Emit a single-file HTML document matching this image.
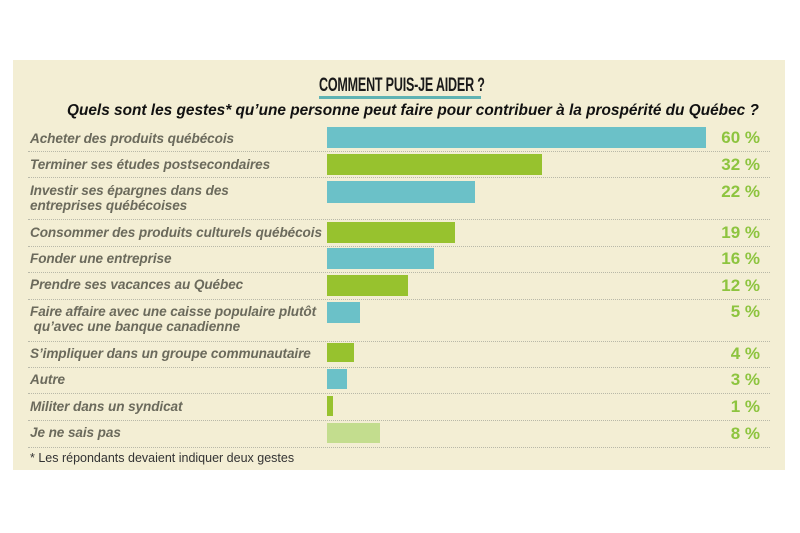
<!DOCTYPE html>
<html><head><meta charset="utf-8"><style>
body{margin:0;width:800px;height:533px;background:#fff;position:relative;overflow:hidden;font-family:"Liberation Sans",sans-serif}
#p{position:absolute;left:13px;top:60px;width:772px;height:410px;background:#f3eed4}
.t{position:absolute;left:319px;top:75px;font-weight:bold;font-size:19px;color:#1a1a1a;transform:scaleX(0.66);transform-origin:left;letter-spacing:-0.3px;white-space:nowrap}
.u{position:absolute;left:319px;top:96px;width:162px;height:3px;background:#5fb3b3}
.s{position:absolute;left:67px;top:102px;font-weight:bold;font-style:italic;font-size:15.4px;color:#111;white-space:nowrap}
.l{position:absolute;left:30px;font-weight:bold;font-style:italic;font-size:13.6px;color:#6b6a5c;line-height:15px;white-space:nowrap;letter-spacing:-0.1px}
.b{position:absolute;left:327px}
.v{position:absolute;right:40px;font-weight:bold;font-size:17px;color:#8dc43f;white-space:nowrap}
.d{position:absolute;left:28px;width:742px;border-top:1px dotted #b8b8a8}
.f{position:absolute;left:30px;top:451px;font-size:12.5px;color:#333}
</style></head><body>
<div id="p"></div>
<div class="t">COMMENT PUIS-JE AIDER ?</div>
<div class="u"></div>
<div class="s">Quels sont les gestes* qu’une personne peut faire pour contribuer à la prospérité du Québec ?</div>

<div class="l" style="top:131px">Acheter des produits québécois</div>
<div class="b" style="top:127px;width:379px;height:21px;background:#6bc1c8"></div>
<div class="v" style="top:128px">60 %</div>
<div class="d" style="top:151px"></div>

<div class="l" style="top:157px">Terminer ses études postsecondaires</div>
<div class="b" style="top:154px;width:215px;height:21px;background:#97c22e"></div>
<div class="v" style="top:155px">32 %</div>
<div class="d" style="top:177px"></div>

<div class="l" style="top:183px">Investir ses épargnes dans des<br>entreprises québécoises</div>
<div class="b" style="top:181px;width:148px;height:22px;background:#6bc1c8"></div>
<div class="v" style="top:182px">22 %</div>
<div class="d" style="top:219px"></div>

<div class="l" style="top:225px">Consommer des produits culturels québécois</div>
<div class="b" style="top:222px;width:128px;height:21px;background:#97c22e"></div>
<div class="v" style="top:223px">19 %</div>
<div class="d" style="top:246px"></div>

<div class="l" style="top:251px">Fonder une entreprise</div>
<div class="b" style="top:248px;width:107px;height:21px;background:#6bc1c8"></div>
<div class="v" style="top:249px">16 %</div>
<div class="d" style="top:272px"></div>

<div class="l" style="top:277px">Prendre ses vacances au Québec</div>
<div class="b" style="top:275px;width:81px;height:21px;background:#97c22e"></div>
<div class="v" style="top:276px">12 %</div>
<div class="d" style="top:299px"></div>

<div class="l" style="top:304px">Faire affaire avec une caisse populaire plutôt<br>&nbsp;qu’avec une banque canadienne</div>
<div class="b" style="top:302px;width:33px;height:21px;background:#6bc1c8"></div>
<div class="v" style="top:302px">5 %</div>
<div class="d" style="top:341px"></div>

<div class="l" style="top:346px">S’impliquer dans un groupe communautaire</div>
<div class="b" style="top:343px;width:27px;height:19px;background:#97c22e"></div>
<div class="v" style="top:344px">4 %</div>
<div class="d" style="top:367px"></div>

<div class="l" style="top:372px">Autre</div>
<div class="b" style="top:369px;width:20px;height:20px;background:#6bc1c8"></div>
<div class="v" style="top:370px">3 %</div>
<div class="d" style="top:393px"></div>

<div class="l" style="top:399px">Militer dans un syndicat</div>
<div class="b" style="top:396px;width:6px;height:20px;background:#97c22e"></div>
<div class="v" style="top:397px">1 %</div>
<div class="d" style="top:420px"></div>

<div class="l" style="top:425px">Je ne sais pas</div>
<div class="b" style="top:423px;width:53px;height:20px;background:#c3dd8e"></div>
<div class="v" style="top:424px">8 %</div>
<div class="d" style="top:447px"></div>

<div class="f">* Les répondants devaient indiquer deux gestes</div>
</body></html>
